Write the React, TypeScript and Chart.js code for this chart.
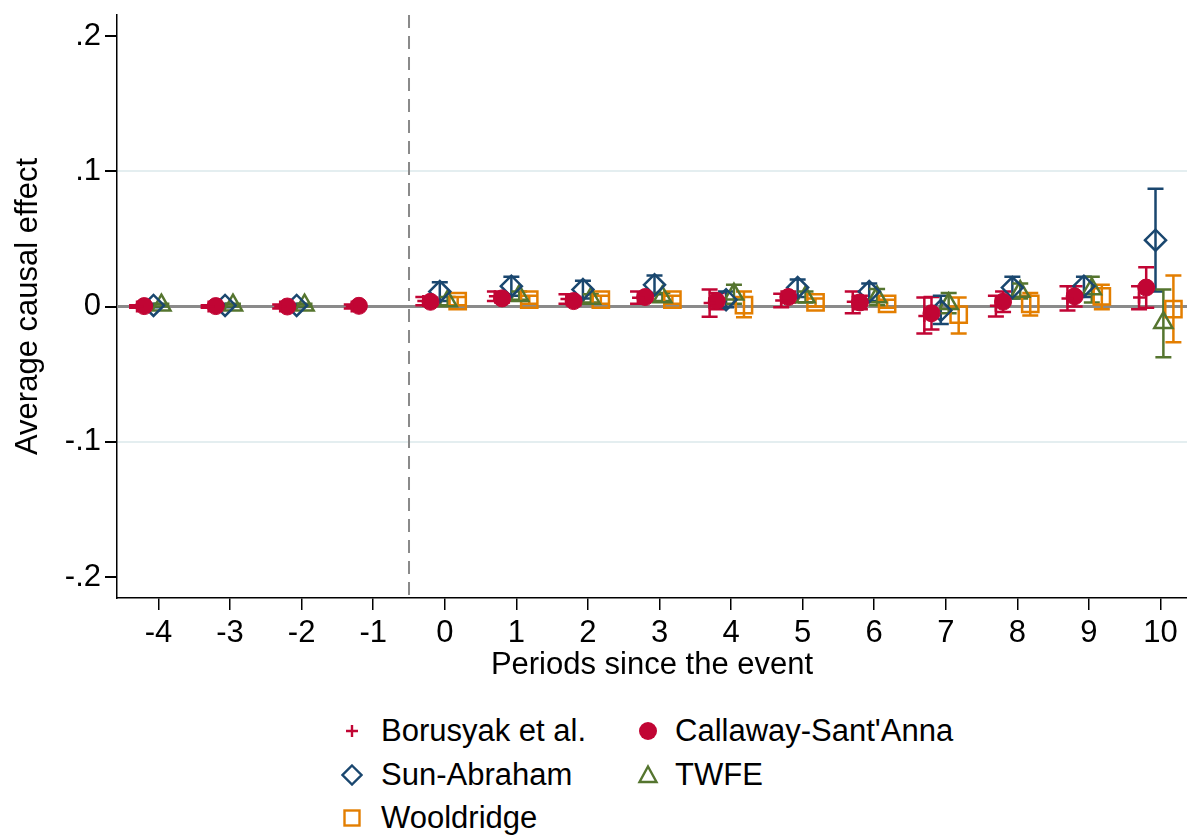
import React, { useEffect, useRef } from "react";
import { Chart, registerables } from "chart.js";

Chart.register(...registerables);

// ---------- data ----------
const periods = [-4, -3, -2, -1, 0, 1, 2, 3, 4, 5, 6, 7, 8, 9, 10];
const xTickValues = [-4, -3, -2, -1, 0, 1, 2, 3, 4, 5, 6, 7, 8, 9, 10];
const yTickValues = [-0.2, -0.1, 0, 0.1, 0.2];
const yTickLabels = ["-.2", "-.1", "0", ".1", ".2"];
const eventLine = -0.5;

const borusyakEst = [0, 0, 0, 0, 0.004, 0.0075, 0.0055, 0.0065, 0.0025, 0.0045, 0.0035, -0.007, 0.0005, 0.006, 0.0066];
const borusyakLo = [-0.001, -0.001, -0.0015, -0.0015, 0.001, 0.004, 0.002, 0.002, -0.0075, -0.0005, -0.005, -0.02, -0.0074, -0.003, -0.002];
const borusyakHi = [0.001, 0.001, 0.0015, 0.0015, 0.007, 0.011, 0.009, 0.011, 0.0125, 0.0095, 0.011, 0.0066, 0.008, 0.015, 0.015];

const callawayEst = [0.0003, 0.0003, 0, 0.0005, 0.0035, 0.006, 0.004, 0.007, 0.004, 0.007, 0.003, -0.005, 0.0035, 0.0075, 0.014];
const callawayLo = [-0.001, -0.001, -0.0015, -0.001, 0.0005, 0.003, 0.001, 0.004, -0.002, 0.003, -0.002, -0.017, -0.004, 0.0, -0.001];
const callawayHi = [0.0015, 0.0015, 0.0015, 0.002, 0.0065, 0.009, 0.007, 0.010, 0.010, 0.011, 0.008, 0.007, 0.011, 0.015, 0.029];

const sunAbrahamEst = [0.0008, 0.0008, 0.0008, null, 0.011, 0.015, 0.0125, 0.016, 0.005, 0.014, 0.011, -0.003, 0.014, 0.015, 0.049];
const sunAbrahamLo = [-0.0005, -0.0005, -0.0005, null, 0.004, 0.008, 0.006, 0.009, -0.0005, 0.007, 0.004, -0.013, 0.006, 0.007, 0.011];
const sunAbrahamHi = [0.002, 0.002, 0.002, null, 0.018, 0.022, 0.019, 0.023, 0.011, 0.02, 0.017, 0.008, 0.022, 0.022, 0.087];

const twfeEst = [0.001, 0.001, 0.001, null, 0.004, 0.008, 0.006, 0.007, 0.009, 0.007, 0.007, 0.002, 0.011, 0.013, -0.012];
const twfeLo = [0, 0, 0, null, 0.001, 0.005, 0.003, 0.004, 0.002, 0.003, 0.001, -0.005, 0.006, 0.003, -0.0375];
const twfeHi = [0.002, 0.002, 0.002, null, 0.007, 0.011, 0.009, 0.010, 0.016, 0.011, 0.013, 0.010, 0.017, 0.022, 0.0125];

const wooldridgeEst = [null, null, null, null, 0.004, 0.005, 0.005, 0.005, 0.001, 0.003, 0.002, -0.006, 0.002, 0.0075, -0.002];
const wooldridgeLo = [null, null, null, null, 0.001, 0.002, 0.002, 0.002, -0.008, 0.0, -0.001, -0.02, -0.0066, -0.002, -0.0265];
const wooldridgeHi = [null, null, null, null, 0.007, 0.008, 0.008, 0.008, 0.011, 0.006, 0.005, 0.0066, 0.010, 0.016, 0.023];

// ---------- styles ----------
const FONT = "'Liberation Sans', Arial, Helvetica, sans-serif";
const RED = "#c10534";
const NAVY = "#1a476f";
const GREEN = "#55752f";
const ORANGE = "#e37e00";

type SeriesDef = {
  label: string;
  est: (number | null)[];
  lo: (number | null)[];
  hi: (number | null)[];
  offset: number;
  color: string;
  pointStyle: string;
  radius: number;
  filled: boolean;
};

const series: SeriesDef[] = [
  { label: "Borusyak et al.", est: borusyakEst, lo: borusyakLo, hi: borusyakHi, offset: -0.3, color: RED, pointStyle: "cross", radius: 6, filled: false },
  { label: "Callaway-Sant'Anna", est: callawayEst, lo: callawayLo, hi: callawayHi, offset: -0.2, color: RED, pointStyle: "circle", radius: 8.5, filled: true },
  { label: "Sun-Abraham", est: sunAbrahamEst, lo: sunAbrahamLo, hi: sunAbrahamHi, offset: -0.07, color: NAVY, pointStyle: "rectRot", radius: 10.5, filled: false },
  { label: "TWFE", est: twfeEst, lo: twfeLo, hi: twfeHi, offset: 0.04, color: GREEN, pointStyle: "triangle", radius: 10.5, filled: false },
  { label: "Wooldridge", est: wooldridgeEst, lo: wooldridgeLo, hi: wooldridgeHi, offset: 0.18, color: ORANGE, pointStyle: "rect", radius: 11.5, filled: false },
];

const refLinesPlugin = {
  id: "refLines",
  beforeDatasetsDraw(chart: any) {
    const { ctx, chartArea, scales } = chart;
    const y0 = scales.y.getPixelForValue(0);
    const xe = scales.x.getPixelForValue(eventLine);
    ctx.save();
    ctx.strokeStyle = "#8a8a8a";
    ctx.lineWidth = 3;
    ctx.beginPath();
    ctx.moveTo(chartArea.left, y0);
    ctx.lineTo(chartArea.right, y0);
    ctx.stroke();
    ctx.lineWidth = 2;
    ctx.setLineDash([13, 8]);
    ctx.beginPath();
    ctx.moveTo(xe, chartArea.top);
    ctx.lineTo(xe, chartArea.bottom);
    ctx.stroke();
    ctx.restore();
  },
};

const errorBarPlugin = {
  id: "errorBars",
  beforeDatasetsDraw(chart: any) {
    const { ctx, scales } = chart;
    chart.data.datasets.forEach((ds: any) => {
      ctx.save();
      ctx.strokeStyle = ds.borderColor;
      ctx.lineWidth = 2.5;
      ds.data.forEach((d: any, j: number) => {
        const lo = ds.errLo[j];
        const hi = ds.errHi[j];
        if (lo == null || hi == null || d.y == null) return;
        const x = scales.x.getPixelForValue(d.x);
        const yl = scales.y.getPixelForValue(lo);
        const yh = scales.y.getPixelForValue(hi);
        const cw = 8;
        ctx.beginPath();
        ctx.moveTo(x, yl);
        ctx.lineTo(x, yh);
        ctx.moveTo(x - cw, yl);
        ctx.lineTo(x + cw, yl);
        ctx.moveTo(x - cw, yh);
        ctx.lineTo(x + cw, yh);
        ctx.stroke();
      });
      ctx.restore();
    });
  },
};

function LegendSymbol({ s }: { s: SeriesDef }) {
  const c = s.color;
  let shape: any = null;
  if (s.pointStyle === "cross") {
    shape = <path d="M11 5 V17 M5 11 H17" stroke={c} strokeWidth={2.4} fill="none" />;
  } else if (s.pointStyle === "circle") {
    shape = <circle cx={11} cy={11} r={9} fill={c} />;
  } else if (s.pointStyle === "rectRot") {
    shape = <path d="M11 1.5 L20.5 11 L11 20.5 L1.5 11 Z" stroke={c} strokeWidth={2.4} fill="none" />;
  } else if (s.pointStyle === "triangle") {
    shape = <path d="M11 2.5 L19.5 18 L2.5 18 Z" stroke={c} strokeWidth={2.4} fill="none" />;
  } else {
    shape = <rect x={3.5} y={3.5} width={15} height={15} stroke={c} strokeWidth={2.4} fill="none" />;
  }
  return (
    <svg width={22} height={22} style={{ display: "block" }}>
      {shape}
    </svg>
  );
}

export default function App() {
  const canvasRef = useRef<HTMLCanvasElement | null>(null);

  useEffect(() => {
    if (!canvasRef.current) return;
    const datasets = series.map((s) => ({
      label: s.label,
      data: periods.map((p, i) => ({ x: p + s.offset, y: s.est[i] })),
      errLo: s.lo,
      errHi: s.hi,
      pointStyle: s.pointStyle,
      pointRadius: s.radius,
      pointHoverRadius: s.radius,
      borderColor: s.color,
      backgroundColor: s.filled ? s.color : "rgba(0,0,0,0)",
      borderWidth: s.filled ? 1 : 2.5,
      pointBorderWidth: s.filled ? 1 : 2.5,
      showLine: false,
    }));

    const chart = new Chart(canvasRef.current, {
      type: "scatter",
      data: { datasets: datasets as any },
      plugins: [refLinesPlugin, errorBarPlugin],
      options: {
        animation: false,
        responsive: false,
        layout: { autoPadding: false, padding: { top: 15, left: 0, right: 0, bottom: 0 } },
        plugins: { legend: { display: false }, tooltip: { enabled: false } },
        scales: {
          x: {
            type: "linear",
            min: -4.58,
            max: 10.37,
            afterBuildTicks: (scale: any) => {
              scale.ticks = xTickValues.map((v) => ({ value: v }));
            },
            afterFit: (scale: any) => {
              scale.height = 92;
              scale.paddingLeft = 0;
              scale.paddingRight = 0;
            },
            grid: { drawOnChartArea: false, tickColor: "#000", tickLength: 12, lineWidth: 1.5 },
            border: { color: "#000", width: 1.5 },
            ticks: {
              color: "#000",
              font: { family: FONT, size: 31 },
              padding: 5,
              maxRotation: 0,
              autoSkip: false,
              callback: (v: any) => String(v),
            },
            title: {
              display: true,
              text: "Periods since the event",
              color: "#000",
              font: { family: FONT, size: 31 },
              padding: { top: 0, bottom: 6 },
            },
          },
          y: {
            type: "linear",
            min: -0.2155,
            max: 0.2155,
            afterBuildTicks: (scale: any) => {
              scale.ticks = yTickValues.map((v) => ({ value: v }));
            },
            afterFit: (scale: any) => {
              scale.width = 117;
              scale.paddingTop = 0;
              scale.paddingBottom = 0;
            },
            grid: {
              color: (ctx: any) =>
                ctx.tick && Math.abs(Math.abs(ctx.tick.value) - 0.1) < 1e-9 ? "#e4eef0" : "rgba(0,0,0,0)",
              lineWidth: 2,
              tickColor: "#000",
              tickLength: 12,
            },
            border: { color: "#000", width: 1.5 },
            ticks: {
              color: "#000",
              font: { family: FONT, size: 31 },
              padding: 4,
              callback: (v: any) => {
                const idx = yTickValues.findIndex((t) => Math.abs(t - Number(v)) < 1e-9);
                return idx >= 0 ? yTickLabels[idx] : "";
              },
            },
            title: {
              display: true,
              text: "Average causal effect",
              color: "#000",
              font: { family: FONT, size: 31 },
              padding: { top: 10, bottom: 0 },
            },
          },
        },
      } as any,
    });
    return () => chart.destroy();
  }, []);

  const legendRows: [SeriesDef, SeriesDef | null][] = [
    [series[0], series[1]],
    [series[2], series[3]],
    [series[4], null],
  ];
  const rowY = [731, 775, 818];
  const colX = [[352, 381], [648, 675]];

  return (
    <div style={{ position: "absolute", left: 0, top: 0, width: 1187, height: 838, background: "#fff", overflow: "hidden" }}>
      <canvas ref={canvasRef} width={1187} height={690} style={{ position: "absolute", left: 0, top: 0, width: 1187, height: 690 }} />
      {legendRows.map((row, r) =>
        row.map((s, c) =>
          s ? (
            <React.Fragment key={`${r}-${c}`}>
              <div style={{ position: "absolute", left: colX[c][0] - 11, top: rowY[r] - 11 }}>
                <LegendSymbol s={s} />
              </div>
              <div
                style={{
                  position: "absolute",
                  left: colX[c][1],
                  top: rowY[r] - 20,
                  height: 40,
                  lineHeight: "40px",
                  fontFamily: FONT,
                  fontSize: 31,
                  color: "#000",
                  whiteSpace: "nowrap",
                }}
              >
                {s.label}
              </div>
            </React.Fragment>
          ) : null
        )
      )}
    </div>
  );
}
